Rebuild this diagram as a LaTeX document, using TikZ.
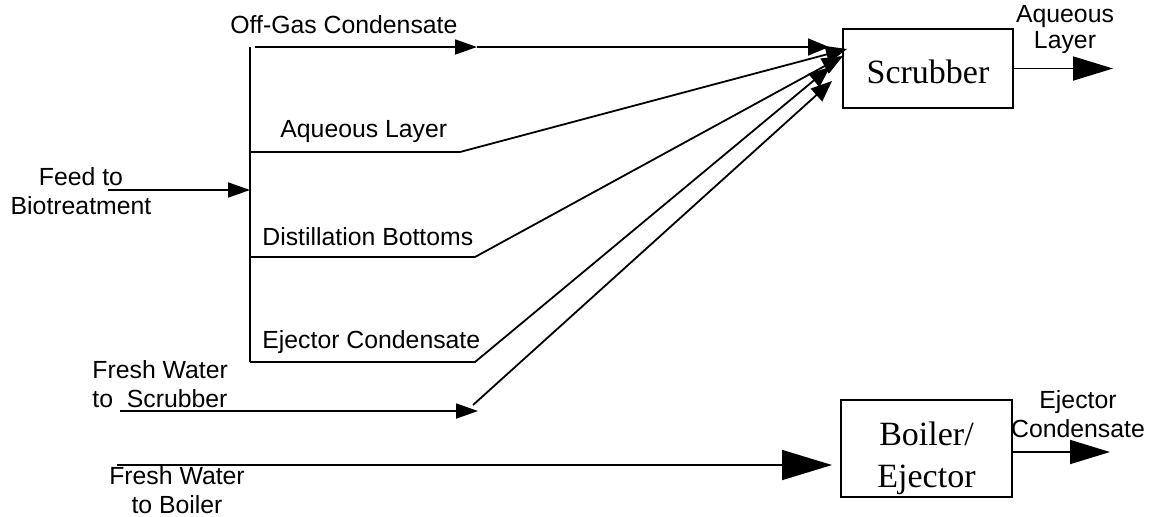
\documentclass[tikz,border=0pt]{standalone}
\usepackage{fontspec}
\setmainfont{Liberation Serif}
\setsansfont{Liberation Sans}
\usetikzlibrary{arrows.meta,positioning}

\begin{document}
\begin{tikzpicture}[x=0.5pt,y=-0.5pt,
	lbl/.style={font=\sffamily\fontsize{12.4}{14.5}\selectfont,inner sep=0pt},
	unit/.style={draw,line width=1pt,inner sep=0pt,font=\fontsize{17}{21}\selectfont,align=center},
	flow/.style={line width=0.9pt},
	tipS/.style={-{Triangle[length=11pt,width=7.5pt]}},
	tipIn/.style={-{Triangle[length=10.5pt,width=8.5pt]}},
	tipL/.style={-{Triangle[length=20pt,width=12pt]}}]
	\useasboundingbox (0,0) rectangle (1151,516);
	
	% process units (struts push the text a bit down)
	\node[unit,minimum width=85pt,minimum height=39.5pt] (scrub) at (928,68.5) {\rule{0pt}{15pt}Scrubber};
	\node[unit,minimum width=85.5pt,minimum height=48.5pt] (boil) at (926.5,448.5) {\rule{0pt}{22pt}Boiler/\\Ejector};
	
	% collecting header
	\coordinate (bustop) at (250,47);
	\coordinate (busfeed) at (250,190);
	\coordinate (busbot) at (250,362);
	\draw[flow] (bustop) -- (busbot);
	
	% feed leaving the header
	\coordinate (feedin) at (108,190);
	\draw[flow,tipS] (feedin) -- (busfeed);
	\node[lbl,align=center] (feed) at (81,191) {Feed to\\Biotreatment};
	
	% streams going to the scrubber
	\coordinate (og0) at (255,47);
	\coordinate (og1) at (477,47);
	\coordinate (og2) at (829,47);
	\draw[flow,tipS] (og0) -- (og1);
	\draw[flow,tipIn] (og1) -- (og2);
	\node[lbl,anchor=base west] (oglbl) at (230,33) {Off-Gas Condensate};
	
	\coordinate (aq0) at (250,152);
	\coordinate (aq1) at (460,152);
	\coordinate (aq2) at (847,49);
	\draw[flow,tipIn] (aq0) -- (aq1) -- (aq2);
	\node[lbl,anchor=base west] (aqlbl) at (280,137) {Aqueous Layer};
	
	\coordinate (db0) at (250,257);
	\coordinate (db1) at (475,257);
	\coordinate (db2) at (843,56);
	\draw[flow,tipIn] (db0) -- (db1) -- (db2);
	\node[lbl,anchor=base west] (dblbl) at (262,245) {Distillation Bottoms};
	
	\coordinate (ec1) at (475,362);
	\coordinate (ec2) at (830,67);
	\draw[flow,tipIn] (busbot) -- (ec1) -- (ec2);
	\node[lbl,anchor=base west] (eclbl) at (262,348) {Ejector Condensate};
	
	\coordinate (fw0) at (120,411);
	\coordinate (fw1) at (478,411);
	\coordinate (fw2) at (473,405);
	\coordinate (fw3) at (832,81);
	\draw[flow,tipS] (fw0) -- (fw1);
	\draw[flow,tipIn] (fw2) -- (fw3);
	\node[lbl,align=left,anchor=west] (fwlbl) at (92,384) {Fresh Water\\to~~Scrubber};
	
	% scrubber outlet
	\coordinate (aqout) at (1113,68.5);
	\draw[flow,tipL] (scrub.east) -- (aqout);
	\node[lbl,align=center,font=\sffamily\fontsize{12.4}{13}\selectfont] (aqoutlbl) at (1065,30) {Aqueous\\Layer};
	
	% boiler feed and outlet
	\coordinate (bw0) at (117,465);
	\coordinate (bw1) at (832,465);
	\draw[flow,-{Triangle[length=25pt,width=15pt]}] (bw0) -- (bw1);
	\node[lbl,align=center] (bwlbl) at (177,490) {Fresh Water\\to Boiler};
	
	\coordinate (ecout) at (1110,452);
	\draw[flow,tipL] (boil.east |- ecout) -- (ecout);
	\node[lbl,align=center] (ecoutlbl) at (1078,414) {Ejector\\Condensate};
\end{tikzpicture}
\end{document}
